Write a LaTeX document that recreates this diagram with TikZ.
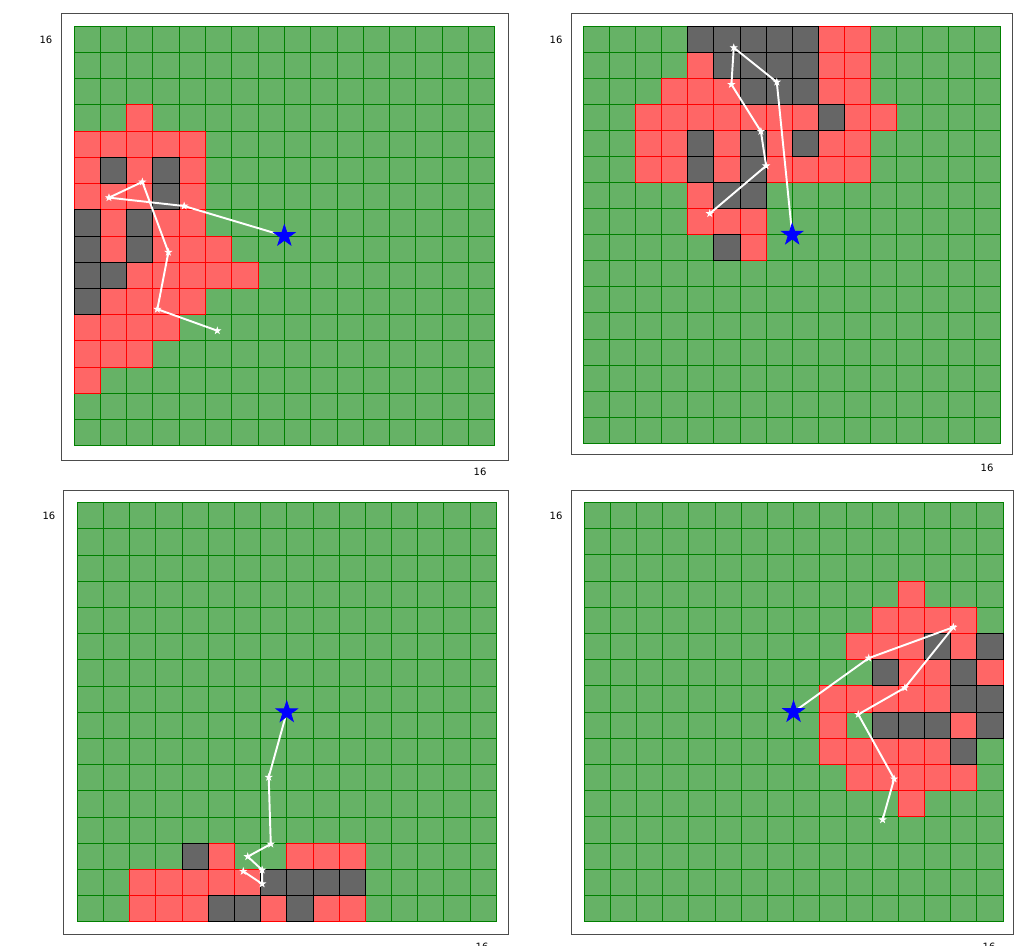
\documentclass[tikz,border=0pt]{standalone}
\usepackage{fontspec}
\setmainfont{DejaVu Sans}
\usetikzlibrary{shapes.geometric}

\definecolor{cellgreen}{RGB}{102,178,102}
\definecolor{edgegreen}{RGB}{0,128,0}
\definecolor{cellred}{RGB}{255,102,102}
\definecolor{edgered}{RGB}{255,0,0}
\definecolor{cellgray}{RGB}{102,102,102}

\begin{document}
\begin{tikzpicture}[x=0.02cm,y=-0.02cm,
  free/.style={fill=cellgreen,draw=edgegreen,line width=0.5pt},
  wall/.style={fill=cellred,draw=edgered,line width=0.5pt},
  block/.style={fill=cellgray,draw=black,line width=0.5pt},
  axbox/.style={draw=black!70,line width=0.45pt},
  walk/.style={draw=white,line width=1.1pt},
  dot/.style={star,star points=5,star point ratio=2.6,fill=white,draw=white,inner sep=0pt,minimum size=0.13cm},
  goal/.style={star,star points=5,star point ratio=2.6,fill=blue,draw=blue,inner sep=0pt,minimum size=0.45cm},
  ticklabel/.style={font=\fontsize{5.7}{7}\selectfont,inner sep=0pt}]
\useasboundingbox (0,0) rectangle (1014,946);

% panel A (top left)
\draw[axbox] (61,13) rectangle (508,460);
\begin{scope}[shift={(74,26)},x=0.526cm,y=-0.525cm]
  \foreach \i in {0,...,15} \foreach \j in {0,...,15}
    \draw[free] (\i,\j) rectangle ++(1,1);
  \foreach \i/\j in {2/3, 0/4,1/4,2/4,3/4,4/4, 0/5,2/5,4/5, 0/6,1/6,2/6,4/6,
      1/7,3/7,4/7, 1/8,3/8,4/8,5/8, 2/9,3/9,4/9,5/9,6/9, 1/10,2/10,3/10,4/10,
      0/11,1/11,2/11,3/11, 0/12,1/12,2/12, 0/13}
    \draw[wall] (\i,\j) rectangle ++(1,1);
  \foreach \i/\j in {1/5,3/5, 3/6, 0/7,2/7, 0/8,2/8, 0/9,1/9, 0/10}
    \draw[block] (\i,\j) rectangle ++(1,1);
  \coordinate (A0) at (8,8);
  \coordinate (A1) at (4.19,6.86);
  \coordinate (A2) at (1.33,6.54);
  \coordinate (A3) at (2.60,5.94);
  \coordinate (A4) at (3.59,8.62);
  \coordinate (A5) at (3.17,10.79);
  \coordinate (A6) at (5.45,11.61);
\end{scope}
\draw[walk] (A0) -- (A1) -- (A2) -- (A3) -- (A4) -- (A5) -- (A6);
\foreach \p in {A1,A2,A3,A4,A5,A6} \node[dot] at (\p) {};
\node[goal] (goalA) at (A0) {};
\node[ticklabel] (yA) at (46,40) {16};
\node[ticklabel] (xA) at (480,472) {16};

% panel B (top right)
\draw[axbox] (571,13) rectangle (1012.7,454.3);
\begin{scope}[shift={(583.5,26)},x=0.5218cm,y=-0.5218cm]
  \foreach \i in {0,...,15} \foreach \j in {0,...,15}
    \draw[free] (\i,\j) rectangle ++(1,1);
  \foreach \i/\j in {9/0,10/0, 4/1,9/1,10/1, 3/2,4/2,5/2,9/2,10/2,
      2/3,3/3,4/3,5/3,6/3,7/3,8/3,10/3,11/3, 2/4,3/4,5/4,7/4,9/4,10/4,
      2/5,3/5,5/5,7/5,8/5,9/5,10/5, 4/6, 4/7,5/7,6/7, 6/8}
    \draw[wall] (\i,\j) rectangle ++(1,1);
  \foreach \i/\j in {4/0,5/0,6/0,7/0,8/0, 5/1,6/1,7/1,8/1, 6/2,7/2,8/2, 9/3,
      4/4,6/4,8/4, 4/5,6/5, 5/6,6/6, 5/8}
    \draw[block] (\i,\j) rectangle ++(1,1);
  \coordinate (B0) at (8,8);
  \coordinate (B1) at (7.41,2.15);
  \coordinate (B2) at (5.76,0.83);
  \coordinate (B3) at (5.67,2.24);
  \coordinate (B4) at (6.80,4.04);
  \coordinate (B5) at (7.00,5.36);
  \coordinate (B6) at (4.84,7.19);
\end{scope}
\draw[walk] (B0) -- (B1) -- (B2) -- (B3) -- (B4) -- (B5) -- (B6);
\foreach \p in {B1,B2,B3,B4,B5,B6} \node[dot] at (\p) {};
\node[goal] (goalB) at (B0) {};
\node[ticklabel] (yB) at (556,40) {16};
\node[ticklabel] (xB) at (987,468) {16};

% panel C (bottom left)
\draw[axbox] (63.7,490) rectangle (508,934.3);
\begin{scope}[shift={(77.2,502.7)},x=0.524cm,y=-0.524cm]
  \foreach \i in {0,...,15} \foreach \j in {0,...,15}
    \draw[free] (\i,\j) rectangle ++(1,1);
  \foreach \i/\j in {5/13,8/13,9/13,10/13, 2/14,3/14,4/14,5/14,6/14,
      2/15,3/15,4/15,7/15,9/15,10/15}
    \draw[wall] (\i,\j) rectangle ++(1,1);
  \foreach \i/\j in {4/13, 7/14,8/14,9/14,10/14, 5/15,6/15,8/15}
    \draw[block] (\i,\j) rectangle ++(1,1);
  \coordinate (C0) at (8,8);
  \coordinate (C1) at (7.31,10.48);
  \coordinate (C2) at (7.39,13.03);
  \coordinate (C3) at (6.51,13.51);
  \coordinate (C4) at (7.06,14.02);
  \coordinate (C5) at (7.06,14.55);
  \coordinate (C6) at (6.34,14.07);
\end{scope}
\draw[walk] (C0) -- (C1) -- (C2) -- (C3) -- (C4) -- (C5) -- (C6);
\foreach \p in {C1,C2,C3,C4,C5,C6} \node[dot] at (\p) {};
\node[goal] (goalC) at (C0) {};
\node[ticklabel] (yC) at (49,516) {16};
\node[ticklabel] (xC) at (482,947) {16};

% panel D (bottom right)
\draw[axbox] (571,490) rectangle (1013.5,934.3);
\begin{scope}[shift={(584,502.5)},x=0.524cm,y=-0.524cm]
  \foreach \i in {0,...,15} \foreach \j in {0,...,15}
    \draw[free] (\i,\j) rectangle ++(1,1);
  \foreach \i/\j in {12/3, 11/4,12/4,13/4,14/4, 10/5,11/5,12/5,14/5, 12/6,13/6,15/6,
      9/7,10/7,11/7,12/7,13/7, 9/8,14/8, 9/9,10/9,11/9,12/9,13/9,
      10/10,11/10,12/10,13/10,14/10, 12/11}
    \draw[wall] (\i,\j) rectangle ++(1,1);
  \foreach \i/\j in {13/5,15/5, 11/6,14/6, 14/7,15/7, 11/8,12/8,13/8,15/8, 14/9}
    \draw[block] (\i,\j) rectangle ++(1,1);
  \coordinate (D0) at (8,8);
  \coordinate (D1) at (10.87,5.94);
  \coordinate (D2) at (14.10,4.76);
  \coordinate (D3) at (12.25,7.07);
  \coordinate (D4) at (10.47,8.09);
  \coordinate (D5) at (11.84,10.55);
  \coordinate (D6) at (11.40,12.11);
\end{scope}
\draw[walk] (D0) -- (D1) -- (D2) -- (D3) -- (D4) -- (D5) -- (D6);
\foreach \p in {D1,D2,D3,D4,D5,D6} \node[dot] at (\p) {};
\node[goal] (goalD) at (D0) {};
\node[ticklabel] (yD) at (556,516) {16};
\node[ticklabel] (xD) at (989,947) {16};
\end{tikzpicture}
\end{document}
